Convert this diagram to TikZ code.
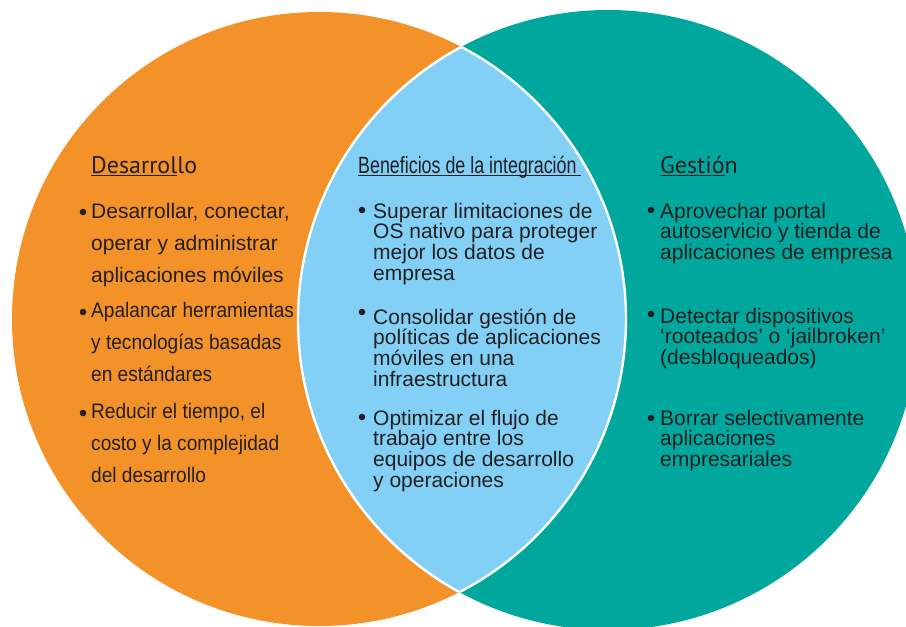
\documentclass[tikz,border=0pt]{standalone}
\usepackage{fontspec}
\setmainfont{Liberation Sans}
\newfontfamily\bodyf{Liberation Sans}
\newfontfamily\condf[FakeStretch=0.91]{Liberation Sans}
\newfontfamily\benef[FakeStretch=0.76]{Liberation Sans}
\newfontfamily\titlef{PT Sans}
\definecolor{orng}{RGB}{242,146,41}
\definecolor{tealc}{RGB}{0,167,157}
\definecolor{lblue}{RGB}{130,208,245}
\definecolor{textc}{RGB}{35,31,32}
\newcommand\ulbar[1]{\setbox0=\hbox{#1}\rlap{\color{textc}\rule[-2.8pt]{\wd0}{1.2pt}}\box0}
\begin{document}
\begin{tikzpicture}[x=1pt,y=-1pt,
  titletext/.style={anchor=base west, inner sep=0pt, text=textc},
  leftitem/.style={anchor=base west, inner sep=0pt, align=left, text=textc},
  bodyitem/.style={anchor=base west, inner sep=0pt, align=left, text=textc, font=\bodyf\fontsize{21}{20.7}\selectfont},
  bulletdot/.style={fill=textc}]
\useasboundingbox (0,0) rectangle (906,627);
\clip (0,0) rectangle (906,627);
% circles
\fill[orng] (319,319) circle[radius=307pt];
\fill[tealc] (608,320) circle[radius=310pt];
\begin{scope}
  \clip (319,319) circle[radius=307pt];
  \fill[lblue] (608,320) circle[radius=310pt];
  \draw[white, line width=2.4pt] (608,320) circle[radius=310pt];
\end{scope}
\begin{scope}
  \clip (608,320) circle[radius=310pt];
  \draw[white, line width=2.4pt] (319,319) circle[radius=307pt];
\end{scope}
% titles
\node[titletext, font=\titlef\fontsize{24}{24}\selectfont] (tdes) at (91,173) {\ulbar{Desarrol}lo};
\node[titletext, font=\benef\fontsize{23.5}{24}\selectfont] (tben) at (358,173) {\ulbar{Beneficios de la integración\,}};
\node[titletext, font=\titlef\fontsize{24}{24}\selectfont] (tges) at (660,173) {\ulbar{Gestió}n};
% left column (anchor = baseline of last line)
\node[leftitem, font=\bodyf\fontsize{21}{32}\selectfont] (l1) at (91,282) {Desarrollar, conectar,\\operar y administrar\\aplicaciones móviles};
\node[leftitem, font=\condf\fontsize{21}{32}\selectfont] (l2) at (91,381) {Apalancar herramientas\\y tecnologías basadas\\en estándares};
\node[leftitem, font=\condf\fontsize{21}{32}\selectfont] (l3) at (91,482) {Reducir el tiempo, el\\costo y la complejidad\\del desarrollo};
\fill[bulletdot] (83,212) circle[radius=3.3pt];
\fill[bulletdot] (83,312) circle[radius=3.3pt];
\fill[bulletdot] (83,413) circle[radius=3.3pt];
% center column
\node[bodyitem] (c1) at (373,280.1) {Superar limitaciones de\\OS nativo para proteger\\mejor los datos de\\empresa};
\node[bodyitem] (c2) at (373,386.1) {Consolidar gestión de\\políticas de aplicaciones\\móviles en una\\infraestructura};
\node[bodyitem] (c3) at (373,487.1) {Optimizar el flujo de\\trabajo entre los\\equipos de desarrollo\\y operaciones};
\fill[bulletdot] (362,210) circle[radius=3.3pt];
\fill[bulletdot] (362,312) circle[radius=3.3pt];
\fill[bulletdot] (362,417) circle[radius=3.3pt];
% right column
\node[bodyitem] (r1) at (660,259.4) {Aprovechar portal\\autoservicio y tienda de\\aplicaciones de empresa};
\node[bodyitem] (r2) at (660,364.4) {Detectar dispositivos\\‘rooteados’ o ‘jailbroken’\\(desbloqueados)};
\node[bodyitem] (r3) at (660,466.4) {Borrar selectivamente\\aplicaciones\\empresariales};
\fill[bulletdot] (651,210) circle[radius=3.3pt];
\fill[bulletdot] (651,314) circle[radius=3.3pt];
\fill[bulletdot] (651,418) circle[radius=3.3pt];
\end{tikzpicture}
\end{document}
